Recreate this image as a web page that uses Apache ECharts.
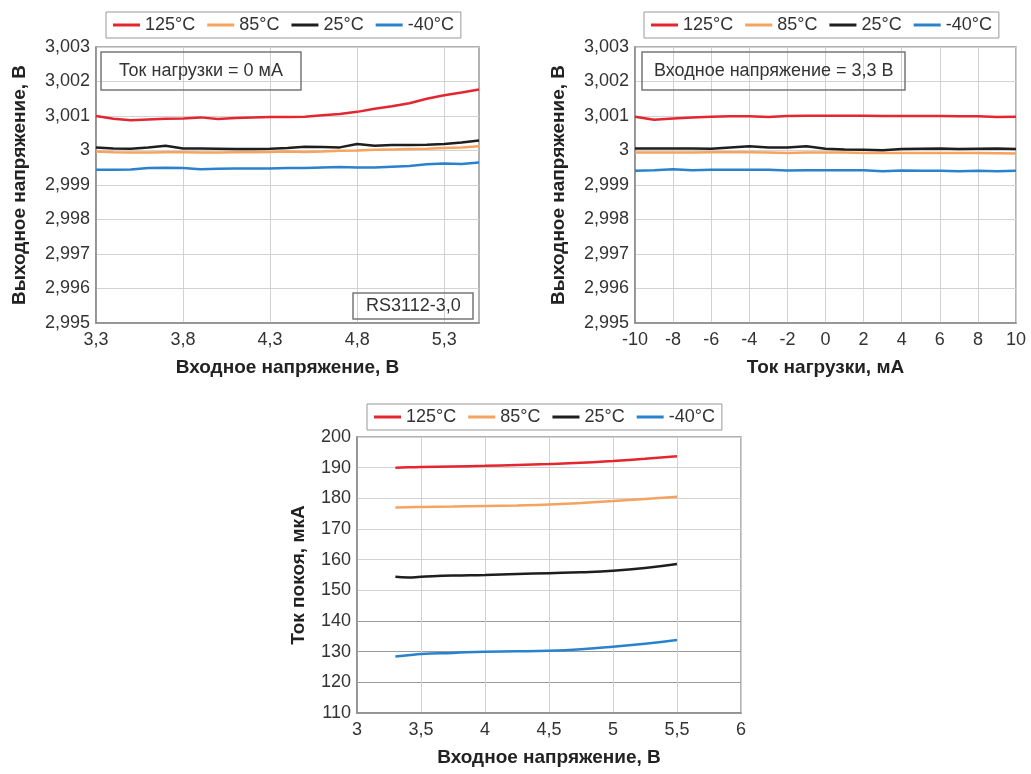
<!DOCTYPE html>
<html>
<head>
<meta charset="utf-8">
<script src="https://cdn.jsdelivr.net/npm/echarts@6/dist/echarts.min.js"></script>
<style>
  html, body { margin: 0; padding: 0; background: #fff; }
  #box { width: 1031px; height: 774px; }
</style>
</head>
<body>
<div id="box"></div>
<script>
const names = ['125°C', '85°C', '25°C', '-40°C'];
const colors = ['#e3262f', '#f5a35e', '#1e1e1e', '#2a82cc'];

// chart 1: output voltage vs input voltage, load 0 mA
const vinA = [3.3, 3.4, 3.5, 3.6, 3.7, 3.8, 3.9, 4.0, 4.1, 4.2, 4.3, 4.4, 4.5, 4.6, 4.7, 4.8, 4.9, 5.0, 5.1, 5.2, 5.3, 5.4, 5.5];
const voutA125 = [3.00100, 3.00092, 3.00088, 3.00090, 3.00092, 3.00093, 3.00096, 3.00091, 3.00094, 3.00096, 3.00097, 3.00097, 3.00098, 3.00102, 3.00106, 3.00112, 3.00121, 3.00128, 3.00137, 3.00150, 3.00160, 3.00168, 3.00177];
const voutA85 = [2.99997, 2.99995, 2.99994, 2.99994, 2.99995, 2.99995, 2.99994, 2.99994, 2.99995, 2.99995, 2.99996, 2.99997, 2.99996, 2.99997, 2.99999, 3.00000, 3.00002, 3.00003, 3.00004, 3.00005, 3.00007, 3.00009, 3.00012];
const voutA25 = [3.00009, 3.00006, 3.00005, 3.00009, 3.00014, 3.00006, 3.00006, 3.00005, 3.00004, 3.00004, 3.00005, 3.00007, 3.00011, 3.00010, 3.00009, 3.00019, 3.00014, 3.00016, 3.00016, 3.00017, 3.00019, 3.00023, 3.00029];
const voutAm40 = [2.99944, 2.99944, 2.99945, 2.99949, 2.99950, 2.99949, 2.99946, 2.99947, 2.99948, 2.99948, 2.99948, 2.99949, 2.99949, 2.99951, 2.99952, 2.99951, 2.99951, 2.99953, 2.99955, 2.99960, 2.99962, 2.99961, 2.99965];
const vinATicks = [3.3, 3.8, 4.3, 4.8, 5.3];

// chart 2: output voltage vs load current, Vin 3.3 V
const iload = [-10, -9, -8, -7, -6, -5, -4, -3, -2, -1, 0, 1, 2, 3, 4, 5, 6, 7, 8, 9, 10];
const voutB125 = [3.00098, 3.00089, 3.00093, 3.00096, 3.00098, 3.00099, 3.00099, 3.00097, 3.00100, 3.00101, 3.00101, 3.00101, 3.00101, 3.00100, 3.00100, 3.00100, 3.00100, 3.00099, 3.00099, 3.00097, 3.00098];
const voutB85 = [2.99994, 2.99994, 2.99994, 2.99994, 2.99995, 2.99995, 2.99995, 2.99994, 2.99993, 2.99994, 2.99994, 2.99994, 2.99993, 2.99993, 2.99993, 2.99993, 2.99993, 2.99993, 2.99993, 2.99992, 2.99991];
const voutB25 = [3.00006, 3.00006, 3.00006, 3.00006, 3.00005, 3.00009, 3.00012, 3.00009, 3.00009, 3.00012, 3.00005, 3.00003, 3.00002, 3.00001, 3.00004, 3.00005, 3.00006, 3.00004, 3.00005, 3.00006, 3.00004];
const voutBm40 = [2.99941, 2.99943, 2.99946, 2.99943, 2.99944, 2.99944, 2.99944, 2.99944, 2.99942, 2.99943, 2.99943, 2.99943, 2.99943, 2.99940, 2.99942, 2.99941, 2.99941, 2.99940, 2.99941, 2.99940, 2.99941];

// chart 3: quiescent current vs input voltage
const vinC = [3.3, 3.4, 3.5, 3.75, 4.0, 4.25, 4.5, 4.75, 5.0, 5.25, 5.5];
const iqC125 = [190.0, 190.1, 190.2, 190.4, 190.6, 190.9, 191.2, 191.6, 192.2, 192.9, 193.7];
const iqC85 = [177.0, 177.1, 177.2, 177.3, 177.5, 177.7, 178.0, 178.5, 179.1, 179.8, 180.5];
const iqC25 = [154.4, 154.2, 154.4, 154.8, 155.0, 155.3, 155.6, 155.9, 156.4, 157.3, 158.6];
const iqCm40 = [128.4, 128.8, 129.2, 129.6, 130.0, 130.1, 130.3, 130.8, 131.6, 132.6, 133.8];

const myChart = echarts.init(document.getElementById('box'));

const FONT = 'Liberation Sans, Arial, sans-serif';
const comma = v => String(+(+v).toFixed(3)).replace('.', ',');
const pairs = (xs, ys) => xs.map((x, i) => [x, ys[i]]);

const labelStyle = { color: '#333', fontSize: 18, fontFamily: FONT };
const nameStyle = { color: '#222', fontSize: 19, fontWeight: 'bold', fontFamily: FONT };
const gridLine = { show: true, lineStyle: { color: '#d2d2d2', width: 1 } };

const makeLegend = (left, top) => ({
    data: names,
    left: left,
    top: top,
    orient: 'horizontal',
    icon: 'rect',
    itemWidth: 27,
    itemHeight: 3,
    itemGap: 12,
    padding: [4, 7],
    borderColor: '#999',
    borderWidth: 1,
    textStyle: { color: '#333', fontSize: 18, fontFamily: FONT }
});

const makeBox = (text, left, top, pad) => ({
    text: text,
    left: left,
    top: top,
    padding: pad,
    borderColor: '#777',
    borderWidth: 1.5,
    textStyle: { color: '#333', fontSize: 18, fontWeight: 'normal', fontFamily: FONT }
});

const lineSeries = (name, idx, data, axisIdx, smooth) => ({
    name: name,
    type: 'line',
    xAxisIndex: axisIdx,
    yAxisIndex: axisIdx,
    data: data,
    symbol: 'none',
    smooth: smooth,
    lineStyle: { width: 2.5, color: colors[idx] },
    itemStyle: { color: colors[idx] }
});

const voutAxis = (gridIndex) => ({
    type: 'value',
    gridIndex: gridIndex,
    min: 2.995,
    max: 3.003,
    interval: 0.001,
    name: 'Выходное напряжение, В',
    nameLocation: 'middle',
    nameGap: 67,
    nameTextStyle: nameStyle,
    axisLine: { show: true, onZero: false, lineStyle: { color: '#888', width: 1.5 } },
    axisTick: { show: false },
    axisLabel: Object.assign({ formatter: comma, margin: 6 }, labelStyle),
    splitLine: gridLine
});

const option = {
    backgroundColor: '#fff',
    animation: false,
    legend: [
        makeLegend(106, 12),
        makeLegend(644, 12),
        makeLegend(367, 404)
    ],
    title: [
        makeBox('Ток нагрузки = 0 мА', 101, 52, [10, 18]),
        makeBox('RS3112-3,0', 353, 293, [4, 13]),
        makeBox('Входное напряжение = 3,3 В', 642, 52, [10, 12])
    ],
    grid: [
        { left: 96, top: 47, width: 383, height: 276, show: true, borderColor: '#999', borderWidth: 1.5 },
        { left: 635, top: 47, width: 381, height: 276, show: true, borderColor: '#999', borderWidth: 1.5 },
        { left: 357, top: 437, width: 384, height: 276, show: true, borderColor: '#999', borderWidth: 1.5 }
    ],
    xAxis: [{
        type: 'value',
        gridIndex: 0,
        min: 3.3,
        max: 5.5,
        name: 'Входное напряжение, В',
        nameLocation: 'middle',
        nameGap: 35,
        nameTextStyle: nameStyle,
        axisLine: { onZero: false, lineStyle: { color: '#888', width: 1.5 } },
        axisTick: { show: false, customValues: vinATicks },
        axisLabel: Object.assign({ formatter: comma, margin: 8, customValues: vinATicks }, labelStyle),
        splitLine: gridLine
    }, {
        type: 'value',
        gridIndex: 1,
        min: -10,
        max: 10,
        interval: 2,
        name: 'Ток нагрузки, мА',
        nameLocation: 'middle',
        nameGap: 35,
        nameTextStyle: nameStyle,
        axisLine: { onZero: false, lineStyle: { color: '#888', width: 1.5 } },
        axisTick: { show: false },
        axisLabel: Object.assign({ margin: 8 }, labelStyle),
        splitLine: gridLine
    }, {
        type: 'value',
        gridIndex: 2,
        min: 3,
        max: 6,
        interval: 0.5,
        name: 'Входное напряжение, В',
        nameLocation: 'middle',
        nameGap: 35,
        nameTextStyle: nameStyle,
        axisLine: { onZero: false, lineStyle: { color: '#888', width: 1.5 } },
        axisTick: { show: false },
        axisLabel: Object.assign({ formatter: comma, margin: 8 }, labelStyle),
        splitLine: gridLine
    }],
    yAxis: [
        voutAxis(0),
        voutAxis(1),
        {
            type: 'value',
            gridIndex: 2,
            min: 110,
            max: 200,
            interval: 10,
            name: 'Ток покоя, мкА',
            nameLocation: 'middle',
            nameGap: 49,
            nameTextStyle: nameStyle,
            axisLine: { show: true, onZero: false, lineStyle: { color: '#888', width: 1.5 } },
            axisTick: { show: false },
            axisLabel: Object.assign({ margin: 6 }, labelStyle),
            splitLine: {
                show: true,
                lineStyle: {
                    width: 1,
                    color: ['#d2d2d2', '#9a9a9a', '#9a9a9a', '#9a9a9a', '#d2d2d2', '#d2d2d2', '#d2d2d2', '#d2d2d2', '#d2d2d2', '#d2d2d2']
                }
            }
        }
    ],
    series: [
        lineSeries(names[0], 0, pairs(vinA, voutA125), 0, false),
        lineSeries(names[1], 1, pairs(vinA, voutA85), 0, false),
        lineSeries(names[2], 2, pairs(vinA, voutA25), 0, false),
        lineSeries(names[3], 3, pairs(vinA, voutAm40), 0, false),
        lineSeries(names[0], 0, pairs(iload, voutB125), 1, false),
        lineSeries(names[1], 1, pairs(iload, voutB85), 1, false),
        lineSeries(names[2], 2, pairs(iload, voutB25), 1, false),
        lineSeries(names[3], 3, pairs(iload, voutBm40), 1, false),
        lineSeries(names[0], 0, pairs(vinC, iqC125), 2, true),
        lineSeries(names[1], 1, pairs(vinC, iqC85), 2, true),
        lineSeries(names[2], 2, pairs(vinC, iqC25), 2, true),
        lineSeries(names[3], 3, pairs(vinC, iqCm40), 2, true)
    ]
};
myChart.setOption(option);
</script>
</body>
</html>
